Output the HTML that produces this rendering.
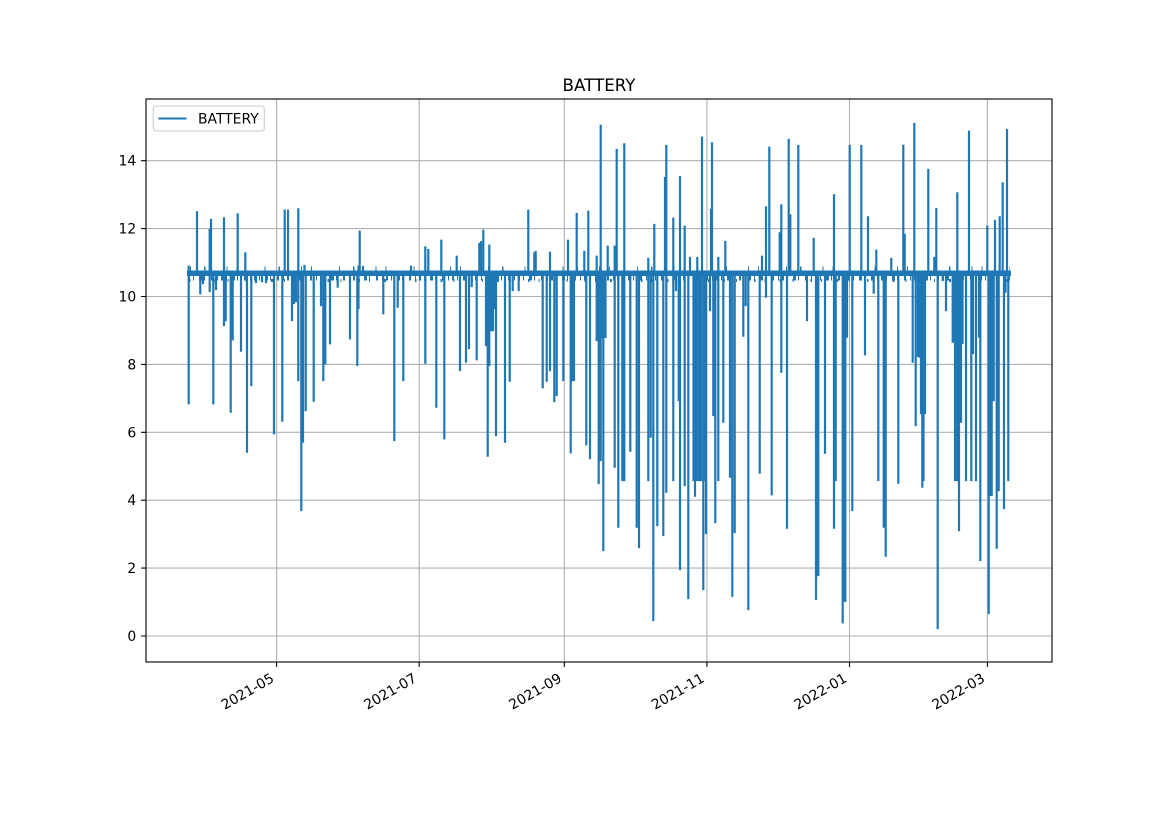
<!DOCTYPE html>
<html>
<head>
<meta charset="utf-8">
<style>
html,body{margin:0;padding:0;background:#fff;}
svg{display:block;}
text{font-family:"DejaVu Sans","Liberation Sans",sans-serif;fill:#000;}
</style>
</head>
<body>
<svg width="1169" height="827" viewBox="0 0 1169 827" xmlns="http://www.w3.org/2000/svg">
<rect x="0" y="0" width="1169" height="827" fill="#fff"/>
<!-- grid -->
<g stroke="#b0b0b0" stroke-width="1.1" fill="none">
<path d="M276.6 99V662M419.2 99V662M564.3 99V662M706.9 99V662M849.5 99V662M987.4 99V662"/>
<path d="M146 636H1052M146 568.1H1052M146 500.2H1052M146 432.3H1052M146 364.4H1052M146 296.5H1052M146 228.6H1052M146 160.7H1052"/>
</g>
<!-- data -->
<g stroke="#1f77b4" fill="none">
<path d="M187 273.3H1011" stroke-width="5.5" stroke-linecap="butt"/>
<path d="M188 278H1010" stroke-width="5" stroke-linecap="butt" stroke-dasharray="2 3 1 5 3 2 1 6 2 4 1 3"/>
<path d="M189 280.5H1010" stroke-width="3" stroke-linecap="butt" stroke-dasharray="1.5 9 1 14 2 11 1 17"/>
<path d="M190 268.5H1010" stroke-width="4" stroke-linecap="butt" stroke-dasharray="1 13 1.5 21 1 9 1 27"/>
<path stroke-width="2.2" stroke-linecap="square" d="
M188.7 266.7V403.3 M197 275V212.3 M200.3 275V293.3 M203 275V283 M209.7 230V291 M211 275V220 M213.3 275V403.3 M216 275V289
M224 218.3V325 M225.7 275V320 M230.7 275V411.7 M232.7 275V339.3 M237.7 275V214.3 M241 275V350.7 M245.3 275V253.3 M247 275V451.7
M251.3 275V385 M256 275V282 M262 275V281 M266 275V282 M274 275V433.3 M282.3 275V420.7 M284.7 275V210.7 M288 275V210.7
M292 275V320 M294 275V303 M296 275V301 M298.3 209.3V380 M301.3 275V510 M303 275V441.7 M304.5 275V266 M305.7 275V410
M313.7 275V400.7 M321 275V305 M323.3 275V380 M325.3 275V363.3 M330 275V343.3 M337.7 275V286.7 M350 275V338.3 M357.3 275V365
M358.5 266.7V308 M359.7 275V231.7 M363 275V267 M383.3 275V313.3 M394.3 275V440 M397.7 275V306.7 M403.3 275V380 M411 275V266.7
M425.3 247.3V362.7 M428.3 275V250 M436.3 275V406.7 M441.3 275V240.7 M444.3 275V438.3 M456.7 275V256.7 M460 275V370 M466 275V361.7
M469 275V348 M471.7 275V286 M476.7 275V359.3 M479.3 275V244 M481 275V242.3 M483.3 275V230.7 M486 275V345 M487.7 275V455.7
M489.3 245.7V365 M491 275V330 M493 275V330 M494 275V308 M496 275V435 M505 275V441.7 M509.7 275V380.7 M512.7 275V290 M518.7 275V290
M528.3 275V210.7 M534.3 275V253.3 M535.7 275V252 M542.7 275V387.3 M546.7 275V380.7 M550 252.7V370 M554.3 275V401 M556.7 275V395
M563.3 275V380 M568 275V240.7 M570.7 275V452.3 M572.7 275V380 M574 275V380 M576.7 275V214 M584.3 275V252 M586.3 275V444.3
M588.3 275V211.7 M590 275V458 M596.7 256.7V340 M598.7 275V483 M600.7 125.7V460 M601.8 275V337 M602.8 275V337 M603.3 275V550
M604.5 275V337 M605.5 275V337 M607.7 275V246.7 M614.7 246.7V466.7 M616.7 275V150 M618.3 275V526.7 M622.3 275V480 M624.3 144.3V480
M630.3 275V450.7 M636.7 275V526.7 M639 275V547 M648.3 259V480 M650.7 275V436.7 M653.3 275V620 M654.3 275V225 M657.3 275V525
M663.3 275V535 M665 275V178 M666.3 146V491.7 M673.3 218.7V480 M676 275V290 M678.7 275V400 M680 177V569 M684.7 226.7V485
M688.3 275V598 M690 275V258 M693.5 275V480 M695 275V495.7 M696.5 275V480 M697.3 258V480 M698.5 275V480 M699.8 275V480 M701 275V480
M702 275V137.7 M703.3 275V589 M704.6 275V480 M706 275V533 M710 275V310 M711 275V210 M712 275V143.3 M713.3 275V415 M715.3 275V522
M718.3 258V480 M723.3 275V421.7 M725.3 275V242 M730 275V476.7 M732.3 275V595.7 M734.7 275V532 M743.3 275V335.7 M745.7 275V305
M748.3 275V609 M759.7 275V472.7 M762 275V256.7 M766 207.3V296.7 M769.3 275V147.7 M771.7 275V494.3 M779.7 275V233.3 M781.3 205.3V371.7
M787 275V527.7 M788.7 275V140 M790.3 275V215.3 M798.3 275V146 M807 275V320 M813.7 275V239 M816 275V599 M817 275V575 M818.3 275V575
M825 275V452.7 M834 195.3V527.7 M835.7 275V480 M842.7 275V622.3 M843.8 275V600 M845.3 275V601 M847 275V336.7 M849.7 275V146
M852.3 275V510 M861.3 275V146 M865 275V354.3 M868 275V217.3 M873.7 275V292.7 M876.3 275V250.7 M878.3 275V480 M883.7 275V526.7
M885.7 275V555.7 M891.3 275V259 M898.3 275V482.7 M903.3 275V145.7 M904.7 275V235 M912.7 275V361.7 M914.3 275V124 M915.7 275V425
M918 275V356 M920 275V356.7 M921 275V413 M922.3 275V486.7 M923.5 275V480 M925 275V413 M928.3 275V170 M934.3 275V258 M936.3 275V209
M937.7 275V628 M942.7 275V280 M946 275V310 M952.7 275V341.7 M954 275V341.7 M955 275V480 M956 275V480 M957.3 275V193.3 M958 275V480
M959 275V530 M960 275V343 M961 275V421.7 M962.5 275V343 M966 275V480 M969 275V131.7 M971.3 275V480 M973 275V353 M976 275V480
M979 275V336.7 M980.3 275V560 M987.3 275V226.7 M988.7 275V613 M990 275V495 M991.7 275V495 M993.7 275V400 M995 275V221
M996.7 275V547.7 M998.7 275V490 M999.7 275V217.3 M1002.7 275V183.3 M1004 275V508 M1005.5 275V291.7 M1007 275V130 M1008.3 275V480
"/>
</g>
<!-- spines -->
<rect x="146" y="99" width="906" height="563" fill="none" stroke="#000" stroke-width="1.1"/>
<!-- ticks -->
<g stroke="#000" stroke-width="1.1">
<path d="M141.1 636H146M141.1 568.1H146M141.1 500.2H146M141.1 432.3H146M141.1 364.4H146M141.1 296.5H146M141.1 228.6H146M141.1 160.7H146"/>
<path d="M276.6 662V666.9M419.2 662V666.9M564.3 662V666.9M706.9 662V666.9M849.5 662V666.9M987.4 662V666.9"/>
</g>
<!-- y labels -->
<g font-size="13.9" text-anchor="end">
<text x="136.2" y="641">0</text>
<text x="136.2" y="573.1">2</text>
<text x="136.2" y="505.2">4</text>
<text x="136.2" y="437.3">6</text>
<text x="136.2" y="369.4">8</text>
<text x="136.2" y="301.5">10</text>
<text x="136.2" y="233.6">12</text>
<text x="136.2" y="165.7">14</text>
</g>
<!-- x labels -->
<g font-size="13.9" text-anchor="end">
<text transform="translate(275,681) rotate(-30)">2021-05</text>
<text transform="translate(417.6,681) rotate(-30)">2021-07</text>
<text transform="translate(562.7,681) rotate(-30)">2021-09</text>
<text transform="translate(705.3,681) rotate(-30)">2021-11</text>
<text transform="translate(847.9,681) rotate(-30)">2022-01</text>
<text transform="translate(985.8,681) rotate(-30)">2022-03</text>
</g>
<!-- title -->
<text x="599" y="91" font-size="16.7" text-anchor="middle">BATTERY</text>
<!-- legend -->
<rect x="153.3" y="106" width="111" height="25" rx="2.8" ry="2.8" fill="#fff" fill-opacity="0.8" stroke="#cccccc" stroke-width="1.1"/>
<path d="M158.5 118.5H186.5" stroke="#1f77b4" stroke-width="2.1"/>
<text x="198" y="123.5" font-size="13.9">BATTERY</text>
</svg>
</body>
</html>
